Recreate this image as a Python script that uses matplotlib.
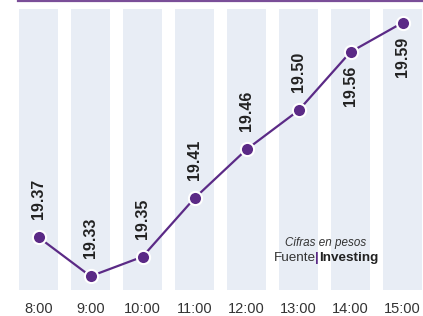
import matplotlib.pyplot as plt
from matplotlib.lines import Line2D
import numpy as np

hours = ["8:00", "9:00", "10:00", "11:00", "12:00", "13:00", "14:00", "15:00"]
prices = [19.37, 19.33, 19.35, 19.41, 19.46, 19.50, 19.56, 19.59]
label_below = [False, False, False, False, False, False, True, True]
band_top = 19.604

purple = "#5b2a86"
band_color = "#e8edf5"
text_dark = "#222222"

plt.rcParams["font.family"] = ["Liberation Sans", "DejaVu Sans"]

W, H = 423, 316
fig = plt.figure(figsize=(W / 100, H / 100), dpi=100)
fig.patch.set_facecolor("white")

# axes: from band bottom (y=289.7 px) up to the top of the figure
ax = fig.add_axes([0, (H - 289.7) / H, 1, 289.7 / H])
x = np.arange(len(hours))
ax.set_xlim(-38.5 / 52, (W - 38.5) / 52)
ax.set_ylim(19.3162, 19.6133)

ax.bar(x, band_top - 19.3162, bottom=19.3162, width=0.75, color=band_color, zorder=0)
ax.plot(x, prices, color=purple, lw=1.6, zorder=2)
ax.plot(x, prices, "o", ms=9.5, mfc=purple, mec="white", mew=1.5, zorder=3)

for xi, v, below in zip(x, prices, label_below):
    dy, va = (-10, "top") if below else (13, "bottom")
    ax.annotate(f"{v:.2f}", (xi, v), xytext=(0, dy), textcoords="offset points",
                rotation=90, ha="center", va=va, fontsize=11.5,
                fontweight="bold", color=text_dark)

ax.set_xticks(x, hours)
ax.tick_params(axis="x", length=0, pad=9, labelsize=10.5, labelcolor="#333333")
ax.set_yticks([])
for s in ax.spines.values():
    s.set_visible(False)

# source note
fig.text(326 / W, 1 - 243 / H, "Cifras en pesos", style="italic", fontsize=8.4,
         color="#333333", ha="center", va="center")
fig.text(315.5 / W, 1 - 258 / H, "Fuente", fontsize=9.7, color="#333333",
         ha="right", va="center")
fig.text(317.2 / W, 1 - 258 / H, "|", fontsize=9.7, fontweight="bold",
         color=purple, ha="center", va="center")
fig.text(319 / W, 1 - 258 / H, "Investing", fontsize=9.7, fontweight="bold",
         color=text_dark, ha="left", va="center")

# top rule
fig.add_artist(Line2D([18 / W, 1], [1 - 0.8 / H, 1 - 0.8 / H], color="#7a4e98",
                      lw=1.6, transform=fig.transFigure))

fig.savefig("out.png", dpi=100)
